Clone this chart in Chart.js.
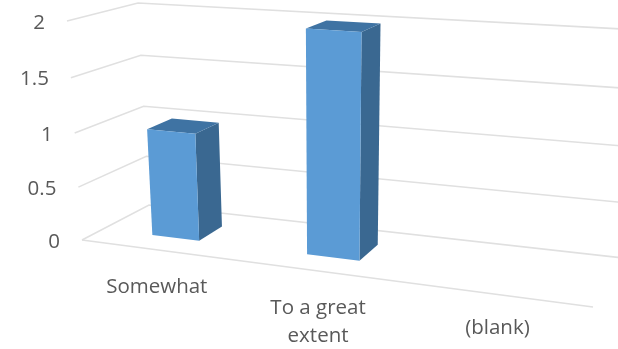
<!DOCTYPE html>
<html>
<head>
<meta charset="utf-8">
<script src="https://cdn.jsdelivr.net/npm/chart.js@4"></script>
<style>
  body { margin: 0; background: #fff; }
  #wrap { width: 618px; height: 349px; }
</style>
</head>
<body>
<div id="wrap"><canvas id="chart" width="618" height="349"></canvas></div>
<script>
// DATA TO DISPLAY
const categories = ['Somewhat', ['To a great', 'extent'], '(blank)'];
const values = [1, 2, null];
const yMax = 2;
const yStep = 0.5;

// corners of the 3d box on screen, [x, y]
const box = {
  frontBottomLeft: [82, 240], frontBottomRight: [593, 307],
  frontTopLeft: [67, 21], frontTopRight: [610, 56],
  backBottomLeft: [149, 205], backBottomRight: [623, 258],
  backTopLeft: [138, 3], backTopRight: [640, 30]
};
const barDepth = [0.32, 0.7];
const xLabelNudge = [[1, 37], [1, 37], [1, 34]];

const lerp = (a, b, t) => a + (b - a) * t;

// u: along the categories, v: up the value axis, w: into the chart
function project(u, v, w) {
  const s = u - 0.16 * u * (1 - u);
  const t = v - 0.046 * v * (1 - v);
  const out = [];
  for (let i = 0; i < 2; i++) {
    const front = lerp(
      lerp(box.frontBottomLeft[i], box.frontBottomRight[i], s),
      lerp(box.frontTopLeft[i], box.frontTopRight[i], s), t);
    const back = lerp(
      lerp(box.backBottomLeft[i], box.backBottomRight[i], s),
      lerp(box.backTopLeft[i], box.backTopRight[i], s), t);
    out.push(lerp(front, back, w));
  }
  return out;
}

function quad(ctx, pts, color) {
  ctx.beginPath();
  pts.forEach((p, i) => i ? ctx.lineTo(p[0], p[1]) : ctx.moveTo(p[0], p[1]));
  ctx.closePath();
  ctx.fillStyle = color;
  ctx.fill();
}

const perspective = {
  id: 'perspective',
  beforeDatasetDraw(chart, args) {
    const ctx = chart.ctx;
    const area = chart.chartArea;
    const yScale = chart.scales.y;
    const toV = px => (area.bottom - px) / area.height;

    // GRID
    ctx.save();
    ctx.filter = 'blur(0.5px)';
    ctx.strokeStyle = '#e0e0e0';
    ctx.lineWidth = 1.6;
    yScale.ticks.forEach((tick, i) => {
      const v = toV(yScale.getPixelForTick(i));
      const a = project(0, v, 0), b = project(0, v, 1), c = project(1, v, 1);
      ctx.beginPath();
      ctx.moveTo(a[0], a[1]);
      ctx.lineTo(b[0], b[1]);
      ctx.lineTo(c[0], c[1]);
      ctx.stroke();
      if (i === 0) {
        const d = project(1, 0, 0);
        ctx.beginPath();
        ctx.moveTo(a[0], a[1]);
        ctx.lineTo(d[0], d[1]);
        ctx.stroke();
      }
    });

    // BARS
    args.meta.data.forEach((bar, i) => {
      if (values[i] === null) return;
      const u0 = (bar.x - bar.width / 2 - area.left) / area.width;
      const u1 = (bar.x + bar.width / 2 - area.left) / area.width;
      const top = toV(bar.y);
      const [w0, w1] = barDepth;
      quad(ctx, [project(u1, 0, w0), project(u1, 0, w1), project(u1, top, w1), project(u1, top, w0)], '#3a6891');
      quad(ctx, [project(u0, top, w0), project(u1, top, w0), project(u1, top, w1), project(u0, top, w1)], '#3f73a3');
      quad(ctx, [project(u0, 0, w0), project(u1, 0, w0), project(u1, top, w0), project(u0, top, w0)], '#5b9bd5');
    });
    ctx.restore();
    return false;
  },
  afterDraw(chart) {
    const ctx = chart.ctx;
    const area = chart.chartArea;
    const { x: xScale, y: yScale } = chart.scales;
    ctx.save();
    ctx.filter = 'blur(0.4px)';
    ctx.fillStyle = '#595959';
    ctx.font = '20.5px "Open Sans"';
    ctx.textBaseline = 'middle';

    // value labels follow the left wall
    ctx.textAlign = 'right';
    yScale.ticks.forEach((tick, i) => {
      const v = (area.bottom - yScale.getPixelForTick(i)) / area.height;
      const p = project(0, v, 0);
      ctx.fillText(tick.label, p[0] - 22, p[1] + 2);
    });

    // category labels step down with the floor
    ctx.textAlign = 'center';
    categories.forEach((label, i) => {
      const u = (xScale.getPixelForTick(i) - area.left) / area.width;
      const p = project(u, 0, 0);
      [].concat(label).forEach((line, n) => {
        ctx.fillText(line, p[0] + xLabelNudge[i][0], p[1] + xLabelNudge[i][1] + n * 28);
      });
    });
    ctx.restore();
  }
};

// CREATE THE CHART
new Chart(document.getElementById('chart'), {
  type: 'bar',
  data: {
    labels: categories,
    datasets: [{
      data: values,
      backgroundColor: '#5b9bd5',
      barPercentage: 0.315,
      categoryPercentage: 1
    }]
  },
  options: {
    responsive: false,
    animation: false,
    layout: { padding: { top: 21, right: 25, bottom: 109, left: 0 } },
    plugins: { legend: { display: false }, tooltip: { enabled: false } },
    scales: {
      x: {
        grid: { display: false },
        border: { display: false },
        ticks: { display: false }
      },
      y: {
        min: 0,
        max: yMax,
        grid: { display: false },
        border: { display: false },
        ticks: { display: false, stepSize: yStep, callback: v => String(v) },
        afterFit: scale => { scale.width = 82; }
      }
    }
  },
  plugins: [perspective]
});
</script>
</body>
</html>
